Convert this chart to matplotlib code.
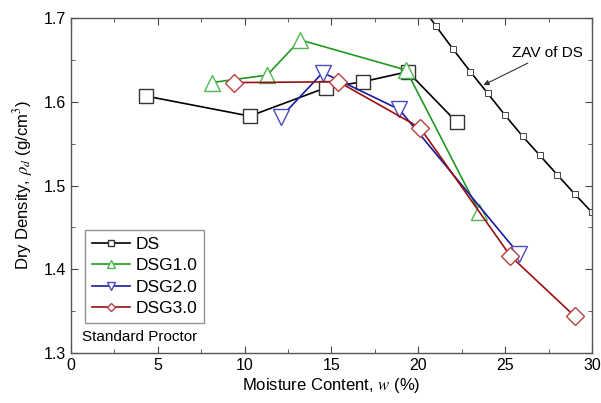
import matplotlib
matplotlib.use('Agg')
import matplotlib.pyplot as plt
from matplotlib.ticker import MultipleLocator

plt.rcParams['font.family'] = ['Liberation Sans', 'DejaVu Sans']
plt.rcParams['mathtext.fontset'] = 'stix'

ds_w = [4.3, 10.3, 14.7, 16.8, 19.4, 22.2]
ds_rho = [1.607, 1.583, 1.617, 1.624, 1.636, 1.576]
g1_w = [8.1, 11.3, 13.2, 19.3, 23.5]
g1_rho = [1.623, 1.632, 1.674, 1.638, 1.469]
g2_w = [12.1, 14.5, 18.9, 25.8]
g2_rho = [1.582, 1.635, 1.591, 1.418]
g3_w = [9.4, 15.4, 20.1, 25.3, 29.0]
g3_rho = [1.623, 1.624, 1.569, 1.416, 1.344]
zav_w = [20, 21, 22, 23, 24, 25, 26, 27, 28, 29, 30]
zav_rho = [1.720, 1.691, 1.663, 1.636, 1.610, 1.584, 1.559, 1.536, 1.513, 1.490, 1.468]

fig = plt.figure(figsize=(6.01, 4.03), dpi=100)
ax = fig.add_axes([0.118, 0.124, 0.867, 0.831])

ax.plot(zav_w, zav_rho, color='black', lw=1.2, marker='s', ms=4.5,
        mfc='white', mec='#444444', mew=0.7)
ax.plot(ds_w, ds_rho, color='black', lw=1.2, marker='s', ms=9.5,
        mfc='white', mec='#333333', mew=1.0, label='DS')
ax.plot(g1_w, g1_rho, color='#1f9a1f', lw=1.2, marker='^', ms=11,
        mfc='white', mec='#4db84d', mew=1.0, label='DSG1.0')
ax.plot(g2_w, g2_rho, color='#1a1aa0', lw=1.2, marker='v', ms=11,
        mfc='white', mec='#4a4ac0', mew=1.0, label='DSG2.0')
ax.plot(g3_w, g3_rho, color='#9a1010', lw=1.2, marker='D', ms=9,
        mfc='white', mec='#b84040', mew=1.0, label='DSG3.0')

ax.annotate('ZAV of DS', xy=(23.75, 1.620), xytext=(25.4, 1.658),
            fontsize=11, va='center',
            arrowprops=dict(arrowstyle='-|>', color='#333333', lw=0.8,
                            mutation_scale=8, shrinkA=0, shrinkB=0))

ax.set_xlim(0, 30)
ax.set_ylim(1.3, 1.7)
ax.xaxis.set_major_locator(MultipleLocator(5))
ax.xaxis.set_minor_locator(MultipleLocator(2.5))
ax.yaxis.set_major_locator(MultipleLocator(0.1))
ax.yaxis.set_minor_locator(MultipleLocator(0.05))
ax.yaxis.set_major_formatter(plt.FormatStrFormatter('%.1f'))
ax.tick_params(which='both', direction='in', top=True, right=True,
               labelsize=11.5, color='#444444')
ax.tick_params(which='major', length=5)
ax.tick_params(which='minor', length=3)
for s in ax.spines.values():
    s.set_color('#555555')
    s.set_linewidth(1.0)

ax.set_xlabel('Moisture Content, $w$ (%)', fontsize=12, labelpad=2)
ax.set_ylabel(r'Dry Density, $\rho_d$ (g/cm$^3$)', fontsize=12, labelpad=6)

leg = ax.legend(loc='lower left', bbox_to_anchor=(0.027, 0.09), fontsize=12.5,
                frameon=True, fancybox=False, edgecolor='#777777',
                handlelength=2.2, handletextpad=0.3, borderpad=0.4,
                labelspacing=0.35, markerscale=0.5, borderaxespad=0)
leg.get_frame().set_linewidth(1.0)

ax.text(0.022, 0.035, 'Standard Proctor', transform=ax.transAxes,
        fontsize=11)

fig.savefig('out.png', dpi=100)
